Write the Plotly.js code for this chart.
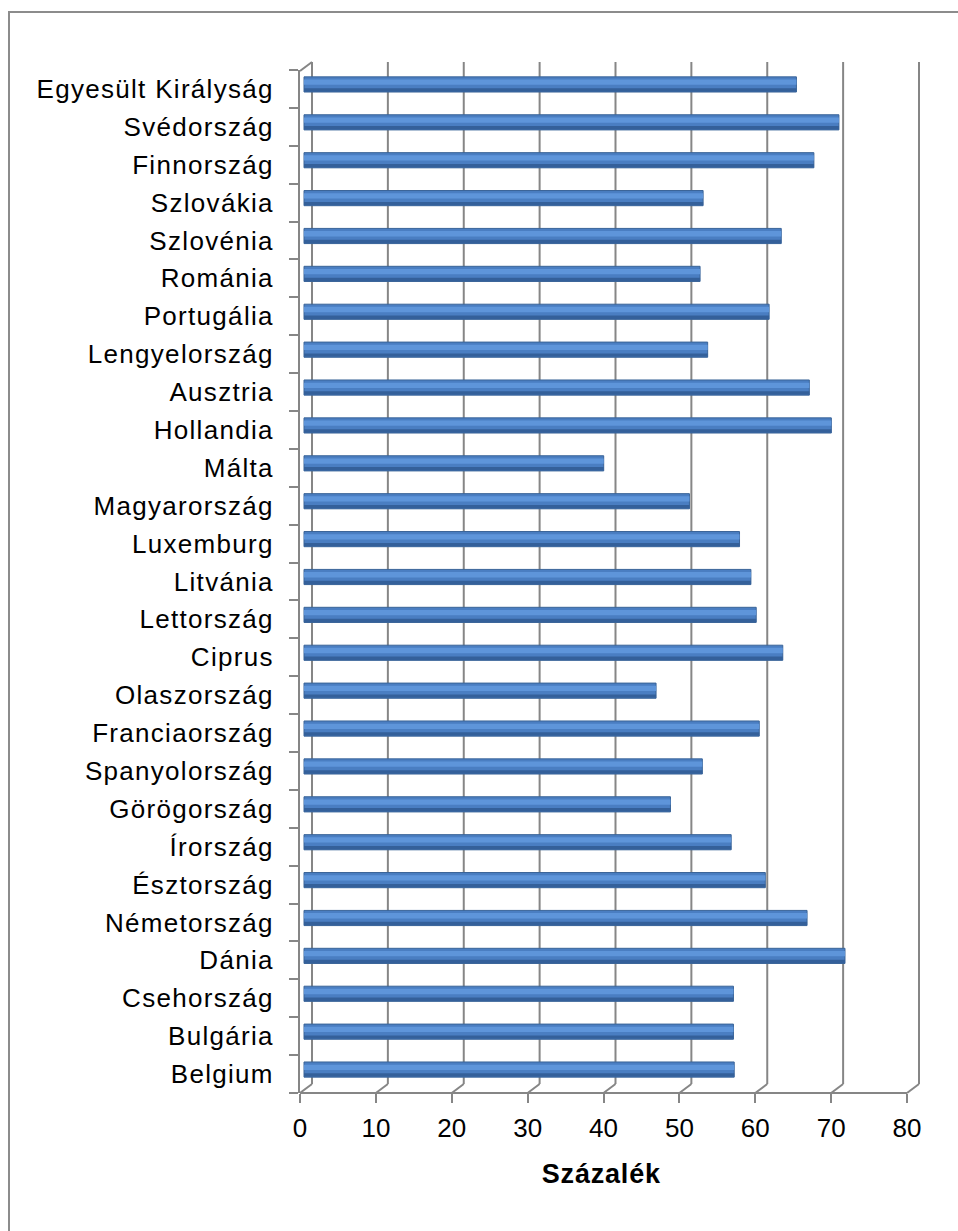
<!DOCTYPE html>
<html>
<head>
<meta charset="utf-8">
<script src="https://cdn.plot.ly/plotly-3.0.1.min.js"></script>
<style>
html,body{margin:0;padding:0;background:#fff;}
#chart{width:958px;height:1231px;}
#chart .ytick text{letter-spacing:1.3px;}
#chart .annotation-text{letter-spacing:0.8px;}
</style>
</head>
<body>
<div id="chart"></div>
<script>
// Categories listed bottom to top (as Plotly draws horizontal bars)
const countries = ["Belgium","Bulgária","Csehország","Dánia","Németország","Észtország","Írország","Görögország","Spanyolország","Franciaország","Olaszország","Ciprus","Lettország","Litvánia","Luxemburg","Magyarország","Málta","Hollandia","Ausztria","Lengyelország","Portugália","Románia","Szlovénia","Szlovákia","Finnország","Svédország","Egyesült Királyság"];
const percent = [56.7,56.6,56.6,71.3,66.3,60.8,56.3,48.3,52.5,60.0,46.4,63.1,59.6,58.9,57.4,50.8,39.5,69.5,66.6,53.2,61.3,52.2,62.9,52.6,67.2,70.5,64.9];
const xTicks = [0,10,20,30,40,50,60,70,80];
const xTitle = "Százalék";

const W = 958, H = 1231;
const px = p => p / W;
const py = p => 1 - p / H;
const font = "Liberation Sans, Arial, sans-serif";
const grey = "#868686";
const scale = 607 / 80;           // px per unit on the front plane
const OFF = 12 / scale;           // depth offset of back plane in units
const xEnd = (924 - 300) / scale;
const barShift = 4 / scale;
const catShift = 4.5 / 37.9;

const yFront = 1093, yBack = 1084, yTopFront = 71, yTopBack = 62;

const shapes = [];
xTicks.forEach(t => {
  shapes.push({type:"line", xref:"x", yref:"paper", x0:t+OFF, x1:t+OFF, y0:py(yTopBack), y1:py(yBack), line:{color:grey,width:2}, layer:"below"});
  shapes.push({type:"line", xref:"x", yref:"paper", x0:t, x1:t+OFF, y0:py(yFront), y1:py(yBack), line:{color:grey,width:2}, layer:"below"});
});
shapes.push({type:"line", xref:"x", yref:"paper", x0:0, x1:xTicks[xTicks.length-1], y0:py(yFront), y1:py(yFront), line:{color:grey,width:2}, layer:"below"});
shapes.push({type:"line", xref:"x", yref:"paper", x0:0, x1:OFF, y0:py(yTopFront), y1:py(yTopBack), line:{color:grey,width:2}, layer:"below"});
shapes.push({type:"rect", xref:"paper", yref:"paper", x0:px(9), x1:1.02, y0:py(12), y1:-0.02, line:{color:"#8c8c8c",width:2}, layer:"below"});

const common = {type:"bar", orientation:"h", x:percent, y:countries, xaxis:"x3", yaxis:"y2", hoverinfo:"skip", showlegend:false};
const data = [
  Object.assign({}, common, {width:0.4, marker:{color:"#4A7EC2", line:{color:"#3A6498", width:1}}}),
  Object.assign({}, common, {width:0.14, offset:-0.01, marker:{color:"#5E95DA", line:{width:0}}}),
  Object.assign({}, common, {width:0.09, offset:-0.19, marker:{color:"#34609A", line:{width:0}}})
];

const layout = {
  width: W, height: H,
  margin: {l:0, r:0, t:0, b:0},
  paper_bgcolor: "#fff", plot_bgcolor: "rgba(0,0,0,0)",
  barmode: "overlay",
  showlegend: false,
  font: {family: font, color: "#000"},
  xaxis: {
    domain: [px(300), px(924)], range: [0, xEnd], anchor: "y",
    tickvals: xTicks, ticktext: xTicks.map(String),
    ticks: "outside", ticklen: 9, tickwidth: 2, tickcolor: grey,
    showline: false, showgrid: false, zeroline: false,
    tickfont: {size: 26, family: font, color: "#000"}, ticklabelstandoff: 3
  },
  xaxis3: {overlaying: "x", range: [-barShift, xEnd - barShift], visible: false, anchor: "y"},
  yaxis: {
    domain: [py(yFront), py(yTopFront - 1)], type: "category", categoryarray: countries,
    range: [-0.5, countries.length - 0.5],
    ticks: "outside", tickson: "boundaries", ticklen: 9, tickwidth: 2, tickcolor: grey,
    showline: true, linecolor: grey, linewidth: 2, showgrid: false, zeroline: false,
    tickfont: {size: 26, family: font, color: "#000"}, ticklabelstandoff: 19
  },
  yaxis2: {overlaying: "y", type: "category", categoryarray: countries,
    range: [-0.5 - catShift, countries.length - 0.5 - catShift], visible: false, anchor: "x3"},
  annotations: [{
    text: "<b>" + xTitle + "</b>", xref: "paper", yref: "paper",
    x: px(602), y: py(1174), xanchor: "center", yanchor: "middle",
    showarrow: false, font: {size: 27, family: font, color: "#000"}
  }],
  shapes: shapes
};

Plotly.newPlot("chart", data, layout, {staticPlot: true, displayModeBar: false});
</script>
</body>
</html>
